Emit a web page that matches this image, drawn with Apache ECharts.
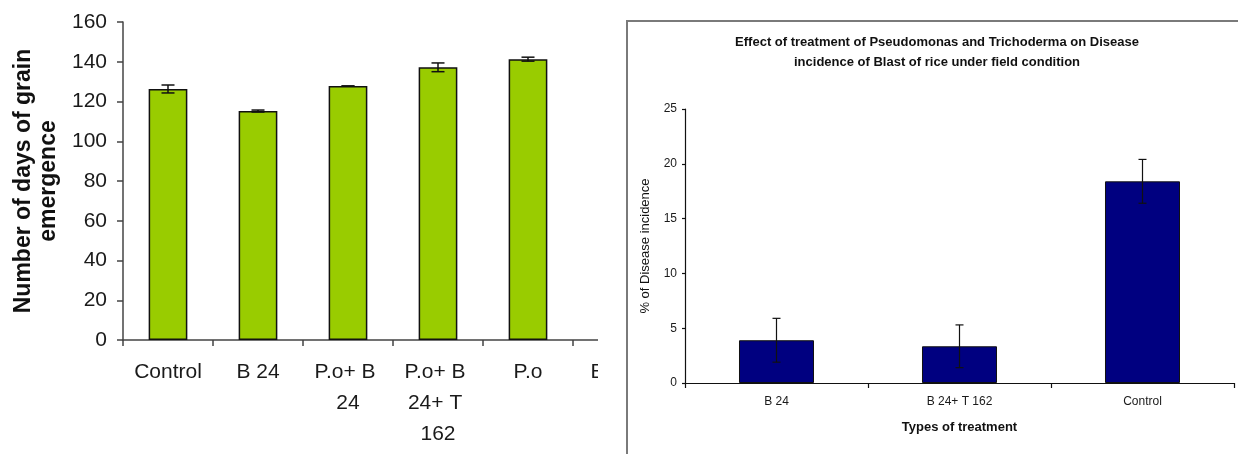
<!DOCTYPE html>
<html>
<head>
<meta charset="utf-8">
<script src="https://cdn.jsdelivr.net/npm/echarts@6/dist/echarts.min.js"></script>
<style>
  html, body { margin:0; padding:0; background:#fff; }
  #leftWrap { position:absolute; left:0; top:0; width:598px; height:454px; overflow:hidden; }
  #leftChart { width:700px; height:454px; }
  #rightChart { position:absolute; left:0; top:0; width:1238px; height:454px; }
</style>
</head>
<body>
<div id="leftWrap"><div id="leftChart"></div></div>
<div id="rightChart"></div>
<script>
// ---- Left chart data ----
const leftCategories = ['Control', 'B 24', 'P.o+ B 24', 'P.o+ B 24+ T 162', 'P.o', 'Beam'];
const leftValues = [126.3, 115.2, 127.8, 137.2, 141.3, null];
const leftErrors = [2.0, 0.5, 0, 2.2, 1.0, null];
const leftYTicks = { min: 0, max: 160, interval: 20 };
const leftYName = 'Number of days of grain\nemergence';

// ---- Right chart data ----
const rightTitle = 'Effect of treatment of Pseudomonas and Trichoderma on Disease\nincidence of Blast of rice under field condition';
const rightCategories = ['B 24', 'B 24+ T 162', 'Control'];
const rightValues = [3.9, 3.35, 18.4];
const rightErrors = [2.0, 1.95, 2.0];
const rightYTicks = { min: 0, max: 25, interval: 5 };
const rightYName = '% of Disease incidence';
const rightXName = 'Types of treatment';

const FONT = '"Liberation Sans", Arial, sans-serif';

function errorSeries(values, errors, capHalf, lw, color) {
  const data = values.map((v, i) => (v == null ? null : [i, v - errors[i], v + errors[i]]));
  return {
    type: 'custom',
    z: 5,
    silent: true,
    data: data.filter(d => d !== null),
    renderItem: function (params, api) {
      const x = api.value(0);
      const lo = api.coord([x, api.value(1)]);
      const hi = api.coord([x, api.value(2)]);
      const st = { stroke: color, lineWidth: lw };
      return {
        type: 'group',
        children: [
          { type: 'line', shape: { x1: lo[0], y1: lo[1], x2: hi[0], y2: hi[1] }, style: st },
          { type: 'line', shape: { x1: hi[0] - capHalf, y1: hi[1], x2: hi[0] + capHalf, y2: hi[1] }, style: st },
          { type: 'line', shape: { x1: lo[0] - capHalf, y1: lo[1], x2: lo[0] + capHalf, y2: lo[1] }, style: st }
        ]
      };
    }
  };
}

// ---- Left chart ----
const left = echarts.init(document.getElementById('leftChart'), null, { renderer: 'canvas' });
left.setOption({
  animation: false,
  grid: { left: 123, top: 22, width: 540, height: 318, containLabel: false },
  xAxis: {
    type: 'category',
    data: leftCategories,
    axisLine: { lineStyle: { color: '#444', width: 1.5 } },
    axisTick: { show: true, alignWithLabel: false, length: 6, lineStyle: { color: '#444', width: 1.5 } },
    axisLabel: {
      interval: 0, color: '#1a1a1a', fontFamily: FONT, fontSize: 21,
      margin: 17, lineHeight: 31, width: 72, overflow: 'break'
    }
  },
  yAxis: {
    type: 'value',
    min: leftYTicks.min, max: leftYTicks.max, interval: leftYTicks.interval,
    name: leftYName,
    nameLocation: 'middle',
    nameGap: 62,
    nameRotate: 90,
    nameTextStyle: { fontFamily: FONT, fontSize: 23, fontWeight: 'bold', color: '#111', lineHeight: 25 },
    axisLine: { show: true, lineStyle: { color: '#444', width: 1.5 } },
    axisTick: { show: true, length: 6, lineStyle: { color: '#444', width: 1.5 } },
    axisLabel: { color: '#1a1a1a', fontFamily: FONT, fontSize: 21, margin: 16 },
    splitLine: { show: false }
  },
  series: [
    {
      type: 'bar',
      data: leftValues,
      barWidth: '43%',
      itemStyle: { color: '#99cc00', borderColor: '#111', borderWidth: 1.5 }
    },
    errorSeries(leftValues, leftErrors, 6.5, 1.5, '#111')
  ]
});

// ---- Right chart ----
const right = echarts.init(document.getElementById('rightChart'), null, { renderer: 'canvas' });
right.setOption({
  animation: false,
  graphic: [
    {
      type: 'rect', z: 0, silent: true,
      shape: { x: 627, y: 21, width: 700, height: 600 },
      style: { fill: '#fff', stroke: '#7a7a7a', lineWidth: 2 }
    },
    {
      type: 'text', z: 10, silent: true,
      x: 937, y: 32,
      style: {
        text: rightTitle, textAlign: 'center', textVerticalAlign: 'top',
        font: 'bold 13px ' + FONT, lineHeight: 20, fill: '#111'
      }
    }
  ],
  grid: { left: 685, top: 109, width: 549, height: 274, containLabel: false },
  xAxis: {
    type: 'category',
    data: rightCategories,
    name: rightXName,
    nameLocation: 'middle',
    nameGap: 38,
    nameTextStyle: { fontFamily: FONT, fontSize: 13, fontWeight: 'bold', color: '#111' },
    axisLine: { lineStyle: { color: '#111', width: 1.2 } },
    axisTick: { show: true, alignWithLabel: false, length: 5, lineStyle: { color: '#111', width: 1.2 } },
    axisLabel: { interval: 0, color: '#1a1a1a', fontFamily: FONT, fontSize: 12, margin: 13 }
  },
  yAxis: {
    type: 'value',
    min: rightYTicks.min, max: rightYTicks.max, interval: rightYTicks.interval,
    name: rightYName,
    nameLocation: 'middle',
    nameGap: 33,
    nameTextStyle: { fontFamily: FONT, fontSize: 13, color: '#111' },
    axisLine: { show: true, lineStyle: { color: '#111', width: 1.2 } },
    axisTick: { show: true, length: 3, lineStyle: { color: '#111', width: 1.2 } },
    axisLabel: { color: '#1a1a1a', fontFamily: FONT, fontSize: 12, margin: 8 },
    splitLine: { show: false }
  },
  series: [
    {
      type: 'bar',
      data: rightValues,
      barWidth: '41%',
      itemStyle: { color: '#000080', borderColor: '#111', borderWidth: 1 }
    },
    errorSeries(rightValues, rightErrors, 4, 1.2, '#111')
  ]
});
</script>
</body>
</html>
